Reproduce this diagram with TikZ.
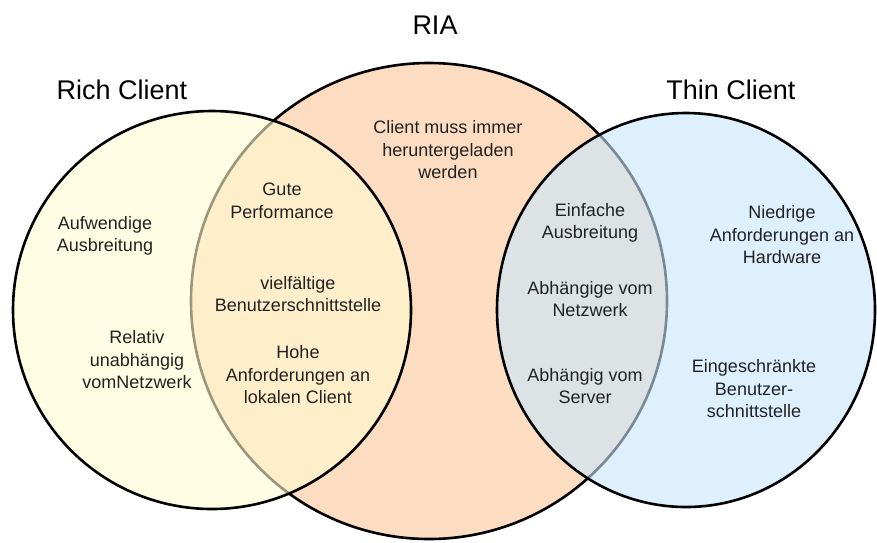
\documentclass[tikz,border=0pt]{standalone}
\usepackage{fontspec}
\setmainfont{Liberation Sans}
\definecolor{riafill}{RGB}{253,221,193}
\definecolor{richfill}{RGB}{255,252,208}
\definecolor{thinfill}{RGB}{200,230,252}
\definecolor{txt}{RGB}{34,34,34}
\begin{document}
\begin{tikzpicture}[x=1pt,y=-1pt,
  setcircle/.style={draw=black,line width=2.6pt},
  label/.style={text=txt,align=center,inner sep=0pt,font=\fontsize{18}{22.5}\selectfont},
  heading/.style={text=black,inner sep=0pt,font=\fontsize{27}{30}\selectfont}]
\useasboundingbox (0,0) rectangle (877,542);
% the three sets: RIA underneath, the two clients translucent on top
\path[setcircle,fill=riafill] (429,301) circle [radius=238];
\path[setcircle,fill=richfill,fill opacity=0.6] (212,310) circle [radius=199];
\path[setcircle,fill=thinfill,fill opacity=0.6] (686,310) ellipse [x radius=189,y radius=197];
% headings
\node[heading] (ria) at (435,25) {RIA};
\node[heading] (rich) at (122,90) {Rich Client};
\node[heading] (thin) at (731,90) {Thin Client};
% RIA only
\node[label] (download) at (448,150) {Client muss immer\\heruntergeladen\\werden};
% Rich Client and RIA
\node[label] (perf) at (282,201) {Gute\\Performance};
\node[label] (ui) at (298,294) {vielfältige\\Benutzerschnittstelle};
\node[label] (local) at (298,375) {Hohe\\Anforderungen an\\lokalen Client};
% Rich Client only
\node[label] (deploy) at (105,236) {Aufwendige\\Ausbreitung};
\node[label] (indep) at (137,360) {Relativ\\unabhängig\\vomNetzwerk};
% Thin Client and RIA
\node[label] (easy) at (590,223) {Einfache\\Ausbreitung};
\node[label] (net) at (590,299) {Abhängige vom\\Netzwerk};
\node[label] (server) at (585,386) {Abhängig vom\\Server};
% Thin Client only
\node[label] (hw) at (782,235) {Niedrige\\Anforderungen an\\Hardware};
\node[label] (limited) at (754,389) {Eingeschränkte\\Benutzer-\\schnittstelle};
\end{tikzpicture}
\end{document}
